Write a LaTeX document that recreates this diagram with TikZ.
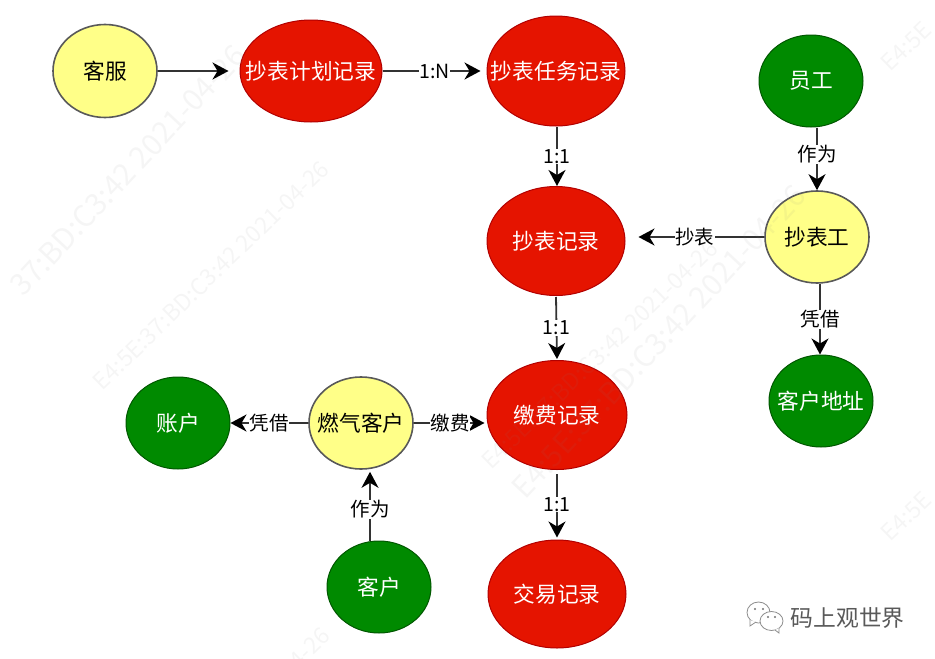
\documentclass[tikz,border=0pt]{standalone}
\usepackage{fontspec}
\setmainfont[Kerning=Off]{Noto Sans CJK SC}
\usetikzlibrary{arrows.meta,shapes.geometric}
\definecolor{rd}{HTML}{E51400}
\definecolor{rdl}{HTML}{B20000}
\definecolor{gn}{HTML}{008A00}
\definecolor{gnl}{HTML}{005700}
\definecolor{yl}{HTML}{FFFF88}
\definecolor{ln}{HTML}{333333}
\newcommand{\zt}[1]{\makebox[0pt]{#1}}
\tikzset{
 base/.style={ellipse,inner sep=0pt,text centered,font=\fontsize{21.7}{24}\selectfont},
 red/.style={base,fill=rd,draw=rdl,line width=1pt,text=white,minimum width=138pt,minimum height=109pt},
 grn/.style={base,fill=gn,draw=gnl,line width=1pt,text=white,minimum width=104pt,minimum height=92pt},
 yel/.style={base,fill=yl,draw=black!65,line width=1.6pt,text=black,minimum width=104pt,minimum height=92pt},
 cn/.style={draw=ln,line width=1.8pt,-{Stealth[length=16pt,width=17pt,inset=5pt,color=black]}},
 lb/.style={fill=white,inner sep=0.5pt,font=\fontsize{19.5}{22}\selectfont,text=black},
 wmark/.style={text=black!50,opacity=.08,font=\fontsize{23}{26}\selectfont,inner sep=0pt},
 wbig/.style={wmark,font=\fontsize{30}{34}\selectfont}
}
\begin{document}
\begin{tikzpicture}[x=1pt,y=-1pt]
\useasboundingbox (0,0) rectangle (935,659);
% nodes
\node[yel,minimum height=93pt] (kf) at (105,71) {\zt{客服}};
\node[red,minimum width=142pt,minimum height=102pt] (jh) at (311,71) {\zt{抄表计划记录}};
\node[red,minimum height=110pt] (rw) at (556,71) {\zt{抄表任务记录}};
\node[grn] (yg) at (811,81) {\zt{员工}};
\node[red] (cb) at (556,241) {\zt{抄表记录}};
\node[yel] (cbg) at (817,237) {\zt{抄表工}};
\node[grn] (dz) at (821,401) {\zt{客户地址}};
\node[red,minimum width=140pt] (jf) at (557,415) {\zt{缴费记录}};
\node[yel] (rq) at (361,423) {\zt{燃气客户}};
\node[grn] (zh) at (178,423) {\zt{账户}};
\node[grn] (kh) at (379,587) {\zt{客户}};
\node[red,minimum height=108pt] (jy) at (557,594) {\zt{交易记录}};
% connectors
\draw[cn,shorten >=11pt] (kf.east) -- (jh.west);
\draw[cn,shorten >=6pt] (jh.east) -- node[lb]{1:N} (rw.west);
\draw[cn] ([xshift=1pt]rw.south) -- node[lb]{1:1} ([xshift=1pt]cb.north);
\draw[cn] (yg.south-|cbg.north) -- node[lb,pos=.43]{作为} (cbg.north);
\draw[cn,shorten >=13pt] (cbg.west) -- node[lb]{抄表} (cbg.west-|cb.east);
\draw[cn] (cbg.south-|820,0) -- node[lb]{凭借} (dz.north-|820,0);
\draw[cn,shorten <=1pt,shorten >=1pt] (cb.south) -- node[lb]{1:1} (jf.north);
\draw[cn,shorten >=2pt] (rq.east) -- node[lb]{缴费} (jf.west|-rq.east);
\draw[cn] (rq.west) -- node[lb]{凭借} (zh.east);
\draw[cn,shorten >=2pt] ([xshift=-9pt]kh.north) -- node[lb,pos=.44]{作为} ([xshift=9pt]rq.south);
\draw[cn,shorten <=4pt,shorten >=2pt] (jf.south) -- node[lb]{1:1} (jy.north);
% wechat logo
\draw[black!45,line width=.8pt,fill=white] (758.5,612.5) ellipse (11.5pt and 10.5pt);
\draw[black!45,line width=.8pt,fill=white] (750,620) -- (750,626) -- (756,622);
\draw[black!45,line width=.8pt,fill=white] (771.5,621) ellipse (11.5pt and 9.5pt);
\draw[black!45,line width=.8pt,fill=white] (775,630) -- (779,633) -- (779,628);
\fill[black!55] (755,609) circle (1.1pt) (763,609) circle (1.1pt) (768,617) circle (1.1pt) (775,617) circle (1.1pt);
\node[inner sep=0pt,anchor=west,text=black!65,font=\fontsize{22.8}{26}\selectfont] (brand) at (790.5,618) {码上观世界};
% watermarks
\node[wbig,rotate=47,anchor=east] (w1) at (240,50) {37:BD:C3:42 2021-04-26};
\node[wmark,rotate=44,anchor=east] (w2) at (325,165) {E4:5E:37:BD:C3:42 2021-04-26};
\node[wmark,rotate=44,anchor=west] (w3) at (485,465) {E4:5E:37:BD:C3:42 2021-04-26};
\node[wbig,rotate=47,anchor=east] (w8) at (800,190) {E4:5E:37:BD:C3:42 2021-04-26};
\node[wmark,rotate=44,anchor=west] (w4) at (885,67) {E4:5E};
\node[wmark,rotate=44,anchor=west] (w5) at (885,537) {E4:5E};
\node[wmark,rotate=44,anchor=east] (w7) at (326,632) {04-26};
\end{tikzpicture}
\end{document}
